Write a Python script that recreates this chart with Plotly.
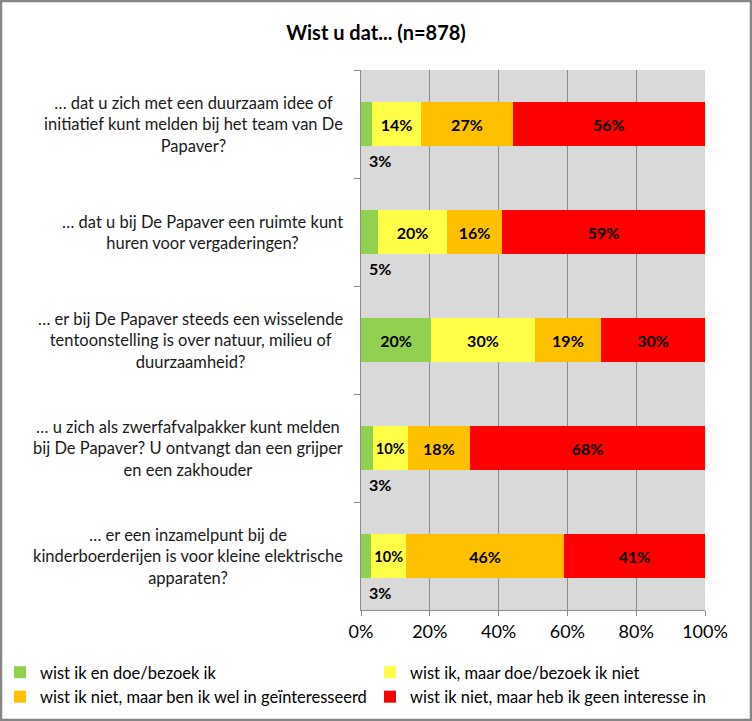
import plotly.graph_objects as go

categories = [
    "… dat u zich met een duurzaam idee of<br>initiatief kunt melden bij het team van De<br>Papaver?",
    "… dat u bij De Papaver een ruimte kunt<br>huren voor vergaderingen?",
    "… er bij De Papaver steeds een wisselende<br>tentoonstelling is over natuur, milieu of<br>duurzaamheid?",
    "… u zich als zwerfafvalpakker kunt melden<br>bij De Papaver? U ontvangt dan een grijper<br>en een zakhouder",
    "… er een inzamelpunt bij de<br>kinderboerderijen is voor kleine elektrische<br>apparaten?",
]
series_names = [
    "wist ik en doe/bezoek ik",
    "wist ik, maar doe/bezoek ik niet",
    "wist ik niet, maar ben ik wel in geïnteresseerd",
    "wist ik niet, maar heb ik geen interesse in",
]
wist_doe = [3.2, 5.0, 20.4, 3.4, 3.0]
wist_niet_doe = [14.3, 20.0, 30.1, 10.2, 10.1]
niet_wel_interesse = [26.6, 16.0, 19.3, 18.1, 45.9]
niet_geen_interesse = [55.9, 59.0, 30.2, 68.3, 41.0]
x_ticks = [0, 20, 40, 60, 80, 100]
x_ticklabels = ["0%", "20%", "40%", "60%", "80%", "100%"]

colors = ["#92d050", "#ffff47", "#ffc000", "#ff0000"]
legend_ids = ["legend", "legend2", "legend", "legend2"]
FONT = "Lato, Liberation Sans, sans-serif"

W, H = 752, 721
L, R, T, B = 361, 47, 70, 111
pw, ph = W - L - R, H - T - B

fig = go.Figure()
all_series = [wist_doe, wist_niet_doe, niet_wel_interesse, niet_geen_interesse]
for name, vals, col, lg in zip(series_names, all_series, colors, legend_ids):
    texts = [f"{round(v)}%" if v >= 6 else "" for v in vals]
    fig.add_trace(go.Bar(
        y=categories, x=vals, name=name, orientation="h",
        marker=dict(color=col, line=dict(width=0)),
        text=texts, textposition="inside", insidetextanchor="middle",
        textangle=0,
        textfont=dict(family=FONT, size=16, color="#000000", weight="bold"),
        width=0.4, hoverinfo="skip", legend=lg,
    ))

annotations = []
# small values labelled below the bar
for cat, v in zip(categories, wist_doe):
    if v < 6:
        annotations.append(dict(
            x=0, y=cat, xref="x", yref="y", text=f"<b>{round(v)}%</b>",
            showarrow=False, xanchor="left", yanchor="middle",
            xshift=6, yshift=-36,
            font=dict(family=FONT, size=16, color="#000000"),
        ))
# category labels, centred multi-line
for cat in categories:
    annotations.append(dict(
        x=0, y=cat, xref="paper", yref="y", text=cat, showarrow=False,
        xanchor="right", yanchor="middle", align="center", xshift=-16,
        font=dict(family=FONT, size=16.5, color="#1a1a1a"),
    ))

shapes = [dict(
    type="rect", xref="paper", yref="paper",
    x0=-(L - 1) / pw, x1=1 + (R - 1) / pw,
    y0=-(B - 1) / ph, y1=1 + (T - 1) / ph,
    line=dict(color="#868686", width=2.5), fillcolor="rgba(0,0,0,0)", layer="below",
)]

legend_common = dict(orientation="v", xref="container", yref="container",
                     yanchor="top", xanchor="left", traceorder="normal",
                     tracegroupgap=0, bgcolor="rgba(0,0,0,0)",
                     font=dict(family=FONT, size=16.5, color="#000000"))

fig.update_layout(
    width=W, height=H,
    margin=dict(l=L, r=R, t=T, b=B, pad=0, autoexpand=False),
    barmode="stack",
    paper_bgcolor="#ffffff", plot_bgcolor="#d9d9d9",
    title=dict(text="<b>Wist u dat... (n=878)</b>", x=0.5, xref="container",
               y=1 - 33 / H, yref="container", yanchor="middle",
               font=dict(family=FONT, size=20, color="#000000")),
    xaxis=dict(range=[0, 100], tickvals=x_ticks, ticktext=x_ticklabels,
               showgrid=True, gridcolor="#8c8c8c", gridwidth=1,
               showline=True, linecolor="#8c8c8c", linewidth=1,
               ticks="outside", ticklen=5, tickcolor="#8c8c8c",
               tickfont=dict(family=FONT, size=18, color="#000000"),
               zeroline=False, fixedrange=True),
    yaxis=dict(autorange="reversed", showticklabels=False, tickson="boundaries",
               ticks="outside", ticklen=6, tickcolor="#8c8c8c",
               showgrid=False, showline=True, linecolor="#8c8c8c", linewidth=1,
               zeroline=False, fixedrange=True),
    showlegend=True,
    legend=dict(x=0.0, y=(H - 655) / H, **legend_common),
    legend2=dict(x=370 / W, y=(H - 655) / H, **legend_common),
    annotations=annotations,
    shapes=shapes,
)

fig.write_html("out.html")
